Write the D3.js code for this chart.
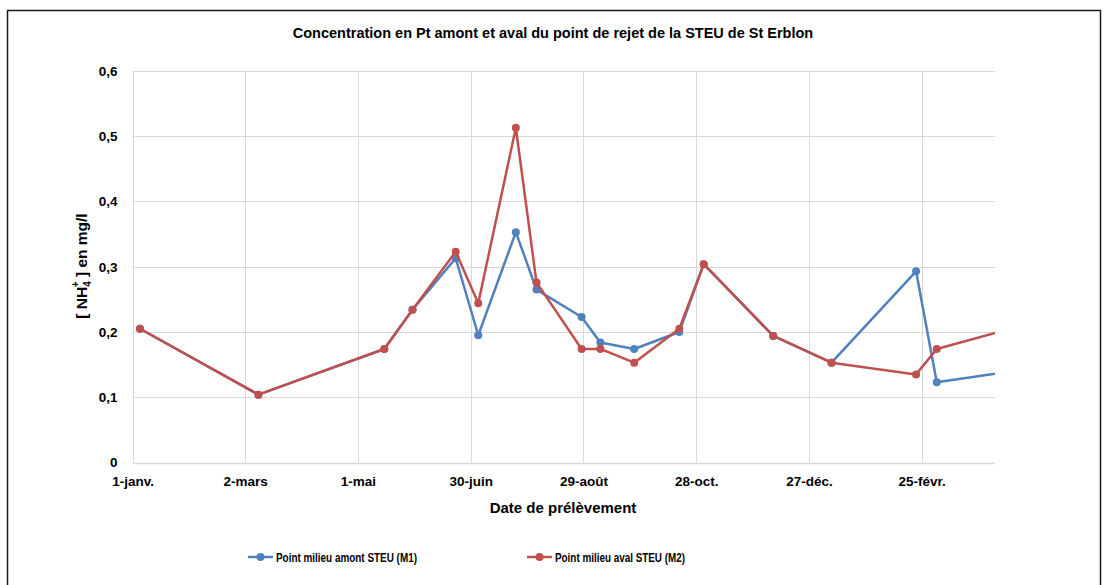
<!DOCTYPE html>
<html>
<head>
<meta charset="utf-8">
<script src="https://cdn.jsdelivr.net/npm/d3@7"></script>
<style>
  body { margin: 0; background: #fff; }
  svg { font-family: "Liberation Sans", Arial, sans-serif; }
</style>
</head>
<body>
<svg width="1103" height="585"></svg>
<script>
// dates de prélèvement (the last one lies past the axis end, the line is clipped)
var dates = ["2017-01-05","2017-03-09","2017-05-15","2017-05-30","2017-06-22","2017-07-04",
  "2017-07-24","2017-08-04","2017-08-28","2017-09-07","2017-09-25","2017-10-19",
  "2017-11-01","2017-12-08","2018-01-08","2018-02-22","2018-03-05","2018-04-26"];

var amont = [0.205, 0.104, 0.174, 0.234, 0.313, 0.195, 0.353, 0.265, 0.223, 0.184,
  0.174, 0.200, 0.304, 0.194, 0.153, 0.293, 0.123, 0.145];
var aval = [0.205, 0.104, 0.174, 0.234, 0.323, 0.244, 0.513, 0.276, 0.174, 0.174,
  0.153, 0.205, 0.304, 0.194, 0.153, 0.135, 0.174, 0.215];

var seriesNames = ["Point milieu amont STEU (M1)", "Point milieu aval STEU (M2)"];
var yTicks = [0, 0.1, 0.2, 0.3, 0.4, 0.5, 0.6];
var xStart = "2017-01-01", xEnd = "2018-04-05";
var tickStepDays = 60;

var fr = d3.timeFormatLocale({
  dateTime: "%A %e %B %Y à %X", date: "%d/%m/%Y", time: "%H:%M:%S",
  periods: ["AM", "PM"],
  days: ["dimanche","lundi","mardi","mercredi","jeudi","vendredi","samedi"],
  shortDays: ["dim.","lun.","mar.","mer.","jeu.","ven.","sam."],
  months: ["janvier","février","mars","avril","mai","juin","juillet","août","septembre","octobre","novembre","décembre"],
  shortMonths: ["janv.","févr.","mars","avr.","mai","juin","juil.","août","sept.","oct.","nov.","déc."]
});
var fmt = fr.utcFormat("%-d-%b");

var svg = d3.select("svg");
var margin = {left: 132.5, top: 71, right: 995, bottom: 462.5};

var x = d3.scaleUtc()
  .domain([new Date(xStart), new Date(xEnd)])
  .range([margin.left, margin.right]);
var y = d3.scaleLinear()
  .domain([0, 0.6])
  .range([margin.bottom, margin.top]);

// cadre
svg.append("rect")
  .attr("x", 7.5).attr("y", 10.5)
  .attr("width", 1093).attr("height", 590)
  .attr("fill", "#fff")
  .attr("stroke", "#1a1a1a")
  .attr("stroke-width", 1.5);

svg.append("text")
  .attr("x", 553).attr("y", 37.5)
  .attr("text-anchor", "middle")
  .attr("font-weight", "bold")
  .attr("font-size", 14.5)
  .text("Concentration en Pt amont et aval du point de rejet de la STEU de St Erblon");

var xTickVals = d3.range(0, 421, tickStepDays).map(function(d) {
  return d3.utcDay.offset(new Date(xStart), d);
});

// grille
var grid = svg.append("g").attr("stroke", "#d9d9d9").attr("stroke-width", 1);
grid.selectAll(".h").data(yTicks).enter().append("line")
  .attr("x1", margin.left).attr("x2", margin.right)
  .attr("y1", function(d) { return Math.round(y(d)) + 0.5; })
  .attr("y2", function(d) { return Math.round(y(d)) + 0.5; })
  .attr("stroke-width", function(d) { return d === 0 ? 1.5 : 1; });
grid.selectAll(".v").data(xTickVals).enter().append("line")
  .attr("y1", margin.top).attr("y2", margin.bottom)
  .attr("x1", function(d) { return Math.round(x(d)) + 0.5; })
  .attr("x2", function(d) { return Math.round(x(d)) + 0.5; });

// axes
var yAxis = d3.axisLeft(y).tickValues(yTicks).tickSize(0).tickPadding(15)
  .tickFormat(function(d) { return d === 0 ? "0" : d3.format(".1f")(d).replace(".", ","); });
svg.append("g").attr("transform", "translate(" + margin.left + ",0)").call(yAxis)
  .call(function(g) { g.select(".domain").remove(); })
  .selectAll("text")
  .attr("font-size", 13.5).attr("font-weight", "bold").attr("fill", "#000")
  .attr("font-family", "Liberation Sans, Arial, sans-serif");

var xAxis = d3.axisBottom(x).tickValues(xTickVals).tickSize(0).tickPadding(14)
  .tickFormat(fmt);
svg.append("g").attr("transform", "translate(0," + margin.bottom + ")").call(xAxis)
  .call(function(g) { g.select(".domain").remove(); })
  .selectAll("text")
  .attr("font-size", 13.5).attr("font-weight", "bold").attr("fill", "#000")
  .attr("font-family", "Liberation Sans, Arial, sans-serif");

svg.append("text")
  .attr("x", 563).attr("y", 513)
  .attr("text-anchor", "middle")
  .attr("font-weight", "bold").attr("font-size", 15)
  .text("Date de prélèvement");

var yl = svg.append("text")
  .attr("transform", "translate(87,266) rotate(-90)")
  .attr("text-anchor", "middle")
  .attr("font-weight", "bold").attr("font-size", 15.5);
yl.append("tspan").text("[ NH");
yl.append("tspan").attr("font-size", 10).attr("dy", 4).text("4");
yl.append("tspan").attr("font-size", 10).attr("dy", -12).attr("dx", -6).text("+");
yl.append("tspan").attr("dy", 8).text(" ] en mg/l");

// séries
svg.append("clipPath").attr("id", "plot")
  .append("rect")
  .attr("x", margin.left - 6).attr("y", margin.top - 6)
  .attr("width", margin.right - margin.left + 6).attr("height", margin.bottom - margin.top + 12);

var colors = ["#4F81BD", "#C0504D"];
var series = [amont, aval].map(function(vals, i) {
  return {name: seriesNames[i], color: colors[i],
    pts: vals.map(function(v, j) { return {date: new Date(dates[j]), v: v}; })};
});

var line = d3.line()
  .x(function(d) { return x(d.date); })
  .y(function(d) { return y(d.v); });

var plot = svg.append("g").attr("clip-path", "url(#plot)");
series.forEach(function(s) {
  plot.append("path")
    .datum(s.pts)
    .attr("fill", "none")
    .attr("stroke", s.color)
    .attr("stroke-width", 2.5)
    .attr("stroke-linejoin", "round")
    .attr("d", line);
  plot.selectAll(null)
    .data(s.pts.filter(function(d) { return d.date <= x.domain()[1]; }))
    .enter().append("circle")
    .attr("cx", function(d) { return x(d.date); })
    .attr("cy", function(d) { return y(d.v); })
    .attr("r", 4)
    .attr("fill", s.color);
});

// légende (Calibri-like narrow text)
var legX = [248, 527];
var legW = [141, 130];
var leg = svg.selectAll(".leg").data(series).enter().append("g")
  .attr("transform", function(d, i) { return "translate(" + legX[i] + ",557)"; });
leg.append("line").attr("x1", 0).attr("x2", 25)
  .attr("stroke", function(d) { return d.color; }).attr("stroke-width", 2.5);
leg.append("circle").attr("cx", 12.5).attr("r", 4)
  .attr("fill", function(d) { return d.color; });
leg.append("text").attr("x", 28).attr("y", 5)
  .attr("font-size", 13).attr("font-weight", "bold")
  .attr("textLength", function(d, i) { return legW[i]; })
  .attr("lengthAdjust", "spacingAndGlyphs")
  .text(function(d) { return d.name; });
</script>
</body>
</html>
